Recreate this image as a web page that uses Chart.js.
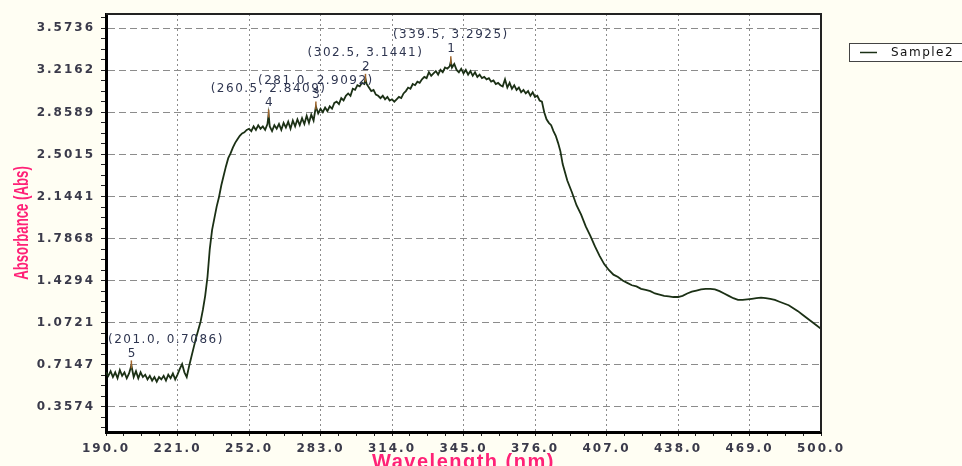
<!DOCTYPE html>
<html>
<head>
<meta charset="utf-8">
<script src="https://cdn.jsdelivr.net/npm/chart.js@4.4.0/dist/chart.umd.min.js"></script>
<style>
  html, body { margin: 0; padding: 0; background: #fffef3; }
  canvas { display: block; }
</style>
</head>
<body>
<canvas id="spectrum" width="962" height="466"></canvas>
<script>
// wavelength (nm), 1 nm steps through the noisy part, 2 nm on the smooth tail
const wavelength = [
  190, 191, 192, 193, 194, 195, 196, 197, 198, 199,
  200, 201, 202, 203, 204, 205, 206, 207, 208, 209,
  210, 211, 212, 213, 214, 215, 216, 217, 218, 219,
  220, 221, 222, 223, 224, 225, 226, 227, 228, 229,
  230, 231, 232, 233, 234, 235, 236, 237, 238, 239,
  240, 241, 242, 243, 244, 245, 246, 247, 248, 249,
  250, 251, 252, 253, 254, 255, 256, 257, 258, 259,
  260, 260.5, 261, 262, 263, 264, 265, 266, 267, 268, 269,
  270, 271, 272, 273, 274, 275, 276, 277, 278, 279,
  280, 281, 282, 283, 284, 285, 286, 287, 288, 289,
  290, 291, 292, 293, 294, 295, 296, 297, 298, 299,
  300, 301, 302, 302.5, 303, 304, 305, 306, 307, 308, 309,
  310, 311, 312, 313, 314, 315, 316, 317, 318, 319,
  320, 321, 322, 323, 324, 325, 326, 327, 328, 329,
  330, 331, 332, 333, 334, 335, 336, 337, 338, 339, 339.5,
  340, 341, 342, 343, 344, 345, 346, 347, 348, 349,
  350, 351, 352, 353, 354, 355, 356, 357, 358, 359,
  360, 361, 362, 363, 364, 365, 366, 367, 368, 369,
  370, 371, 372, 373, 374, 375, 376, 377, 378, 379,
  380, 381, 382, 383, 384, 385, 386, 387,
  388, 390, 392, 394, 396, 398, 400, 402, 404, 406,
  408, 410, 412, 414, 416, 418, 420, 422, 424, 426,
  428, 430, 432, 434, 436, 438, 440, 442, 444, 446,
  448, 450, 452, 454, 456, 458, 460, 462, 464, 466,
  468, 470, 472, 474, 476, 478, 480, 482, 484, 486,
  488, 490, 492, 494, 496, 498, 500
];

const absorbance = [
  0.65, 0.62, 0.66, 0.61, 0.65, 0.60, 0.67, 0.62, 0.65, 0.60,
  0.64, 0.7086, 0.61, 0.66, 0.60, 0.65, 0.61, 0.63, 0.59, 0.62,
  0.58, 0.61, 0.57, 0.61, 0.59, 0.62, 0.58, 0.63, 0.60, 0.64,
  0.59, 0.63, 0.68, 0.72, 0.65, 0.61, 0.70, 0.78, 0.86, 0.94,
  1.01, 1.08, 1.18, 1.30, 1.46, 1.70, 1.86, 1.96, 2.06, 2.14,
  2.24, 2.32, 2.40, 2.47, 2.51, 2.56, 2.60, 2.63, 2.66, 2.68,
  2.69, 2.71, 2.72, 2.70, 2.74, 2.71, 2.75, 2.72, 2.74, 2.71,
  2.76, 2.8409, 2.74, 2.70, 2.75, 2.72, 2.76, 2.71, 2.77, 2.73, 2.78,
  2.72, 2.79, 2.74, 2.80, 2.75, 2.81, 2.76, 2.83, 2.77, 2.84,
  2.79, 2.9092, 2.85, 2.89, 2.86, 2.90, 2.87, 2.91, 2.89, 2.94,
  2.95, 2.93, 2.98, 2.96, 3.00, 3.02, 3.00, 3.06, 3.05, 3.09,
  3.08, 3.11, 3.10, 3.1441, 3.10, 3.07, 3.04, 3.05, 3.01, 3.00, 2.98,
  3.00, 2.97, 2.99, 2.96, 2.97, 2.95, 2.97, 2.99, 2.98, 3.02,
  3.04, 3.07, 3.06, 3.10, 3.09, 3.12, 3.11, 3.14, 3.16, 3.15,
  3.20, 3.17, 3.19, 3.21, 3.18, 3.22, 3.20, 3.24, 3.23, 3.25, 3.2925,
  3.24, 3.27, 3.22, 3.20, 3.23, 3.19, 3.22, 3.18, 3.21, 3.17,
  3.20, 3.16, 3.18, 3.15, 3.16, 3.14, 3.15, 3.12, 3.13, 3.10,
  3.11, 3.09, 3.08, 3.14, 3.07, 3.11, 3.06, 3.09, 3.05, 3.07,
  3.03, 3.05, 3.02, 3.04, 3.00, 3.03, 2.99, 3.00, 2.96, 2.95,
  2.86, 2.80, 2.77, 2.75, 2.70, 2.66, 2.60, 2.53,
  2.42, 2.28, 2.18, 2.07, 1.99, 1.89, 1.81, 1.72, 1.64, 1.57,
  1.52, 1.48, 1.46, 1.43, 1.41, 1.39, 1.38, 1.36, 1.35, 1.34,
  1.32, 1.31, 1.30, 1.295, 1.29, 1.29, 1.30, 1.32, 1.335, 1.345,
  1.355, 1.36, 1.36, 1.355, 1.34, 1.32, 1.30, 1.28, 1.265, 1.265,
  1.27, 1.275, 1.28, 1.285, 1.28, 1.275, 1.265, 1.25, 1.235, 1.22,
  1.195, 1.17, 1.14, 1.11, 1.08, 1.05, 1.02
];

// picked peaks
const peakNo = [1, 2, 3, 4, 5];
const peakX = [339.5, 302.5, 281.0, 260.5, 201.0];
const peakY = [3.2925, 3.1441, 2.9092, 2.8409, 0.7086];

// axis ticks as printed
const xTicks = [190, 221, 252, 283, 314, 345, 376, 407, 438, 469, 500];
const yTicks = [0.3574, 0.7147, 1.0721, 1.4294, 1.7868, 2.1441, 2.5015, 2.8589, 3.2162, 3.5736];

const PINK = '#ff2277';
const TICKTXT = '#3a3a4a';
const LINE = '#1b3015';

// major ticks get a label, 3 minor ticks in between
function withMinor(majors, step, min, max, digits) {
  const out = [];
  const sub = step / 4;
  for (let k = -4; k <= (majors.length - 1) * 4 + 4; k++) {
    const v = majors[0] + k * sub;
    if (v < min - 1e-6 || v > max + 1e-6) continue;
    const isMajor = k % 4 === 0 && k >= 0 && k / 4 < majors.length;
    out.push({ value: isMajor ? majors[k / 4] : v, lbl: isMajor ? majors[k / 4].toFixed(digits) : '' });
  }
  return out;
}

const extras = {
  id: 'extras',
  beforeUpdate(chart) { chart.ctx.letterSpacing = '2px'; },
  beforeDraw(chart) {
    const { ctx, chartArea: a } = chart;
    ctx.letterSpacing = '2px';
    ctx.save();
    ctx.fillStyle = '#ffffff';
    ctx.fillRect(a.left, a.top, a.right - a.left, a.bottom - a.top);
    ctx.restore();
  },
  afterDraw(chart) {
    const { ctx, chartArea: a } = chart;
    const xs = chart.scales.x, ys = chart.scales.y;
    ctx.save();

    // top and right frame
    ctx.strokeStyle = '#222';
    ctx.lineWidth = 2;
    ctx.beginPath();
    ctx.moveTo(a.left, a.top);
    ctx.lineTo(a.right, a.top);
    ctx.lineTo(a.right, a.bottom);
    ctx.stroke();

    // peak labels
    ctx.font = '12px "DejaVu Sans"';
    ctx.letterSpacing = '1.5px';
    ctx.textBaseline = 'middle';
    for (let i = 0; i < peakNo.length; i++) {
      const px = xs.getPixelForValue(peakX[i]);
      const py = ys.getPixelForValue(peakY[i]);
      ctx.strokeStyle = '#a0642a';
      ctx.lineWidth = 1.5;
      ctx.beginPath();
      ctx.moveTo(px, py - 5);
      ctx.lineTo(px, py + 3);
      ctx.stroke();
      ctx.fillStyle = '#2e3550';
      ctx.textAlign = 'center';
      ctx.fillText(String(peakNo[i]), px + 1, py - 12);
      const txt = '(' + peakX[i].toFixed(1) + ', ' + peakY[i].toFixed(4) + ')';
      const w = ctx.measureText(txt).width;
      let left = px - w / 2;
      if (left < a.left + 2) left = a.left + 2;
      ctx.textAlign = 'left';
      ctx.fillText(txt, left, py - 26);
    }

    // legend
    ctx.fillStyle = '#ffffff';
    ctx.fillRect(849.5, 43.5, 130, 18);
    ctx.strokeStyle = '#444';
    ctx.lineWidth = 1;
    ctx.strokeRect(849.5, 43.5, 130, 18);
    ctx.strokeStyle = LINE;
    ctx.lineWidth = 1.5;
    ctx.beginPath();
    ctx.moveTo(860, 52.5);
    ctx.lineTo(877, 52.5);
    ctx.stroke();
    ctx.fillStyle = '#111';
    ctx.textAlign = 'left';
    ctx.textBaseline = 'middle';
    ctx.fillText('Sample2', 891, 53);

    // axis titles
    ctx.fillStyle = PINK;
    ctx.font = 'bold 20px "Liberation Sans"';
    ctx.letterSpacing = '1.5px';
    ctx.textAlign = 'center';
    ctx.textBaseline = 'alphabetic';
    ctx.fillText('Wavelength (nm)', (a.left + a.right) / 2, a.bottom + 36);

    ctx.letterSpacing = '0px';
    ctx.translate(22, (a.top + a.bottom) / 2);
    ctx.rotate(-Math.PI / 2);
    ctx.scale(0.66, 1);
    ctx.textBaseline = 'middle';
    ctx.fillText('Absorbance (Abs)', 0, 0);
    ctx.restore();
  }
};

new Chart(document.getElementById('spectrum'), {
  type: 'line',
  data: {
    datasets: [{
      label: 'Sample2',
      data: wavelength.map((w, i) => ({ x: w, y: absorbance[i] })),
      borderColor: LINE,
      borderWidth: 1.8,
      pointRadius: 0,
      tension: 0,
      fill: false
    }]
  },
  options: {
    responsive: false,
    animation: false,
    layout: { padding: { top: 14, right: 141, left: 0, bottom: 0 } },
    plugins: { legend: { display: false }, tooltip: { enabled: false } },
    scales: {
      x: {
        type: 'linear',
        min: 190,
        max: 500,
        afterBuildTicks: s => { s.ticks = withMinor(xTicks, 31, 190, 500, 1); },
        afterFit: s => { s.height = 34; },
        ticks: {
          autoSkip: false,
          maxRotation: 0,
          padding: 6,
          color: TICKTXT,
          font: { family: 'DejaVu Sans', size: 12, weight: 'bold' },
          callback: (v, i, t) => t[i].lbl
        },
        grid: {
          color: c => (c.tick && c.tick.lbl ? '#8c8c8c' : 'transparent'),
          lineWidth: 1,
          tickColor: '#222',
          tickLength: 4
        },
        border: { color: '#000', width: 3, dash: [2, 3] }
      },
      y: {
        type: 'linear',
        min: 0.143,
        max: 3.695,
        afterBuildTicks: s => { s.ticks = withMinor(yTicks, 0.35736, 0.143, 3.695, 4); },
        afterFit: s => { s.width = 106; },
        ticks: {
          autoSkip: false,
          padding: 6,
          color: TICKTXT,
          font: { family: 'DejaVu Sans', size: 12, weight: 'bold' },
          callback: (v, i, t) => t[i].lbl
        },
        grid: {
          color: c => (c.tick && c.tick.lbl ? '#8c8c8c' : 'transparent'),
          lineWidth: 1,
          tickColor: '#222',
          tickLength: 5
        },
        border: { color: '#000', width: 3, dash: [7, 4] }
      }
    }
  },
  plugins: [extras]
});
</script>
</body>
</html>
